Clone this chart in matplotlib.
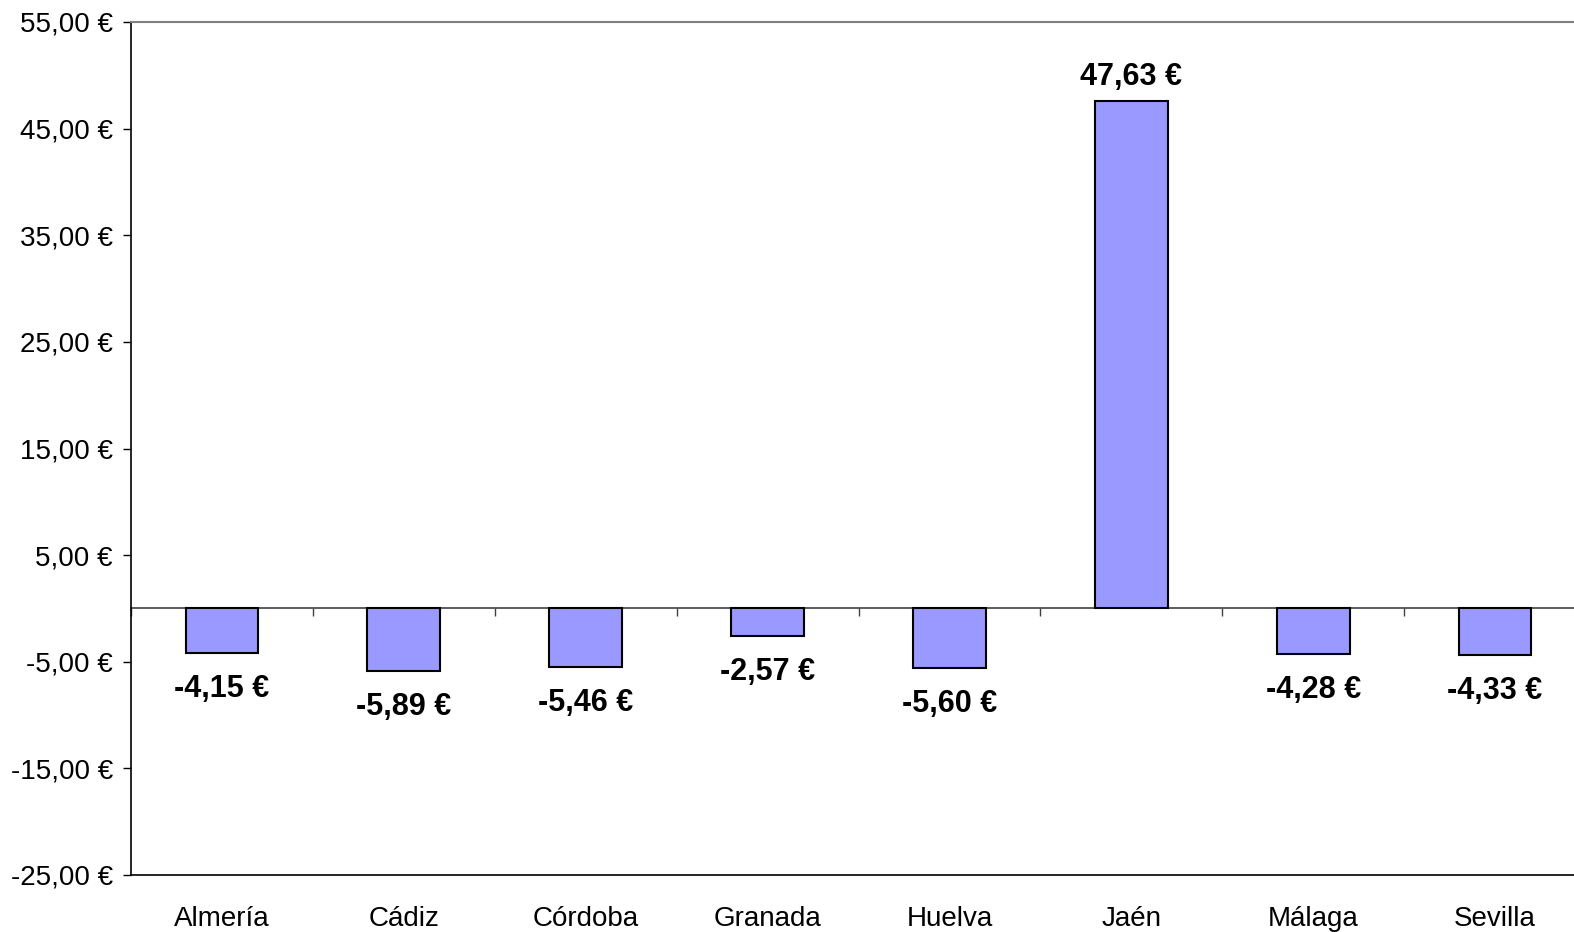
import numpy as np
import matplotlib
matplotlib.use('Agg')
import matplotlib.pyplot as plt

plt.rcParams['font.family'] = ['Liberation Sans', 'DejaVu Sans']

# Data
provincias = ['Almería', 'Cádiz', 'Córdoba', 'Granada', 'Huelva', 'Jaén', 'Málaga', 'Sevilla']
valores = [-4.15, -5.89, -5.46, -2.57, -5.60, 47.63, -4.28, -4.33]
y_ticks = [-25, -15, -5, 5, 15, 25, 35, 45, 55]


def euros(v):
    return f"{v:.2f}".replace('.', ',') + " €"


fig = plt.figure(figsize=(15.74, 9.32), dpi=100)
ax = fig.add_axes([131 / 1574, 57 / 932, 1455 / 1574, 853 / 932])

x = np.arange(len(provincias))
ax.bar(x, valores, width=0.4, color='#9999FF', edgecolor='black', linewidth=1.5, zorder=3)

ax.set_xlim(-0.5, len(provincias) - 0.5)
ax.set_ylim(-25, 55)

# y axis
ax.set_yticks(y_ticks)
ax.set_yticklabels([euros(v) for v in y_ticks], fontsize=20)
ax.tick_params(axis='y', direction='out', length=6, width=1, pad=7, colors='black')

# x labels at the bottom, no tick marks there
ax.set_xticks(x)
ax.set_xticklabels(provincias, fontsize=20)
ax.tick_params(axis='x', length=0, pad=22)

for side in ['left', 'bottom']:
    ax.spines[side].set_color('black')
    ax.spines[side].set_linewidth(1.2)
ax.spines['top'].set_color('#808080')
ax.spines['top'].set_linewidth(1.5)
ax.spines['right'].set_visible(False)

# zero line with category separator ticks
sec = ax.secondary_xaxis(25 / 80)
sec.set_xticks(np.arange(len(provincias) + 1) - 0.5)
sec.set_xticklabels([])
sec.tick_params(direction='out', length=6, width=1, colors='#404040')
sec.spines['bottom'].set_color('#404040')
sec.spines['bottom'].set_linewidth(1.2)

# value labels
for xi, v in zip(x, valores):
    if v >= 0:
        ax.annotate(euros(v), (xi, v), xytext=(0, 17), textcoords='offset points',
                    ha='center', va='center', fontsize=22, fontweight='bold')
    else:
        ax.annotate(euros(v), (xi, v), xytext=(0, -26), textcoords='offset points',
                    ha='center', va='center', fontsize=22, fontweight='bold')

fig.savefig('out.png', dpi=100)
